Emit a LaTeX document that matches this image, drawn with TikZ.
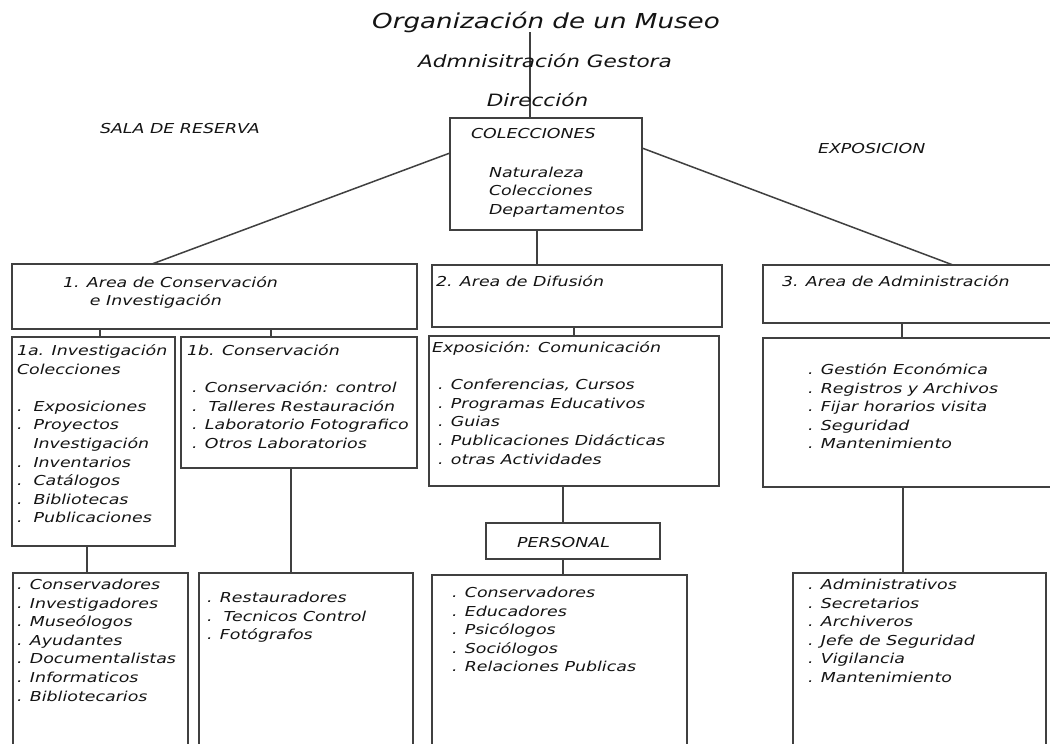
\documentclass[tikz,border=0pt]{standalone}
\usepackage{fontspec}
\setmainfont{DejaVu Sans}[FakeStretch=1.27, ItalicFont=DejaVu Sans Oblique]
\begin{document}
\begin{tikzpicture}[x=1pt,y=-1pt,
  box/.style={draw=black!75, line width=1.3pt, inner sep=0pt, outer sep=0pt, anchor=north west},
  conn/.style={draw=black!75, line width=1.3pt},
  diag/.style={draw=black!75, line width=1.5pt},
  txt/.style={inner sep=0pt, outer sep=0pt, align=left, anchor=north west, text=black!92,
    font=\fontsize{13.7}{18.6}\selectfont\itshape},
  big/.style={inner sep=0pt, outer sep=0pt, anchor=base, text=black!92,
    font=\fontsize{17}{20}\selectfont\itshape}]
\useasboundingbox (0,0) rectangle (1050,744);
\clip (0,0) rectangle (1050,744);
\fill[white] (0,0) rectangle (1050,744);
% boxes
\node[box, minimum width=192pt, minimum height=112pt] (col) at (450,118) {};
\node[box, minimum width=405pt, minimum height=65pt] (b1) at (12,264) {};
\node[box, minimum width=290pt, minimum height=62pt] (b2) at (432,265) {};
\node[box, minimum width=300pt, minimum height=58pt] (b3) at (763,265) {};
\node[box, minimum width=163pt, minimum height=209pt] (b1a) at (12,337) {};
\node[box, minimum width=236pt, minimum height=131pt] (b1b) at (181,337) {};
\node[box, minimum width=290pt, minimum height=150pt] (bexp) at (429,336) {};
\node[box, minimum width=300pt, minimum height=149pt] (b3s) at (763,338) {};
\node[box, minimum width=174pt, minimum height=36pt] (bpers) at (486,523) {};
\node[box, minimum width=175pt, minimum height=200pt] (c1) at (13,573) {};
\node[box, minimum width=214pt, minimum height=200pt] (c2) at (199,573) {};
\node[box, minimum width=255pt, minimum height=200pt] (c3) at (432,575) {};
\node[box, minimum width=253pt, minimum height=200pt] (c4) at (793,573) {};
% headings
\node[big, font=\fontsize{20.6}{24}\selectfont\itshape] (title) at (546,28) {Organización de un Museo};
\coordinate (tx) at (530,0);
\draw[conn] (title.south -| tx) -- (col.north -| tx);
\node[big] (admin) at (545,67) {Admnisitración Gestora};
\node[big] (dir) at (537.5,106) {Dirección};
\node[txt, anchor=base west] (sala) at (100,133) {SALA DE RESERVA};
\node[txt, anchor=base west] (expo) at (818,153) {EXPOSICION};
% connectors
\draw[diag] ([yshift=-35pt]col.north west) -- ([xshift=140pt]b1.north west);
\draw[diag] ([yshift=-30pt]col.north east) -- ([xshift=190pt]b3.north west);
\draw[conn] ([xshift=-9pt]col.south) -- ([xshift=-9pt]col.south |- b2.north);
\draw[conn] ([xshift=6.5pt]b1a.north) -- ([xshift=6.5pt]b1a.north |- b1.south);
\draw[conn] ([xshift=-28pt]b1b.north) -- ([xshift=-28pt]b1b.north |- b1.south);
\draw[conn] (bexp.north) -- (bexp.north |- b2.south);
\draw[conn] ([xshift=-11pt]b3s.north) -- ([xshift=-11pt]b3s.north |- b3.south);
\draw[conn] ([xshift=-6.5pt]b1a.south) -- ([xshift=-6.5pt]b1a.south |- c1.north);
\draw[conn] ([xshift=-8pt]b1b.south) -- ([xshift=-8pt]b1b.south |- c2.north);
\draw[conn] ([xshift=-11pt]bexp.south) -- ([xshift=-11pt]bexp.south |- bpers.north);
\draw[conn] ([xshift=-10pt]bpers.south) -- ([xshift=-10pt]bpers.south |- c3.north);
\draw[conn] ([xshift=-10pt]b3s.south) -- ([xshift=-10pt]b3s.south |- c4.north);
% texts
\node[txt, anchor=base west] (tcol) at (471,138) {COLECCIONES};
\node[txt] (tnat) at (489,166.6) {Naturaleza\\Colecciones\\Departamentos};
\node[txt] (t1) at (63,276.3) {1. Area de Conservación\\\hspace{27pt}e Investigación};
\node[txt] (t2) at (436,275.6) {2. Area de Difusión};
\node[txt] (t3) at (782,275.6) {3. Area de Administración};
\node[txt] (t1a) at (17,344.6) {1a. Investigación\\Colecciones\\[18.6pt]
  .\ \ Exposiciones\\.\ \ Proyectos\\\hspace{16.5pt}Investigación\\.\ \ Inventarios\\
  .\ \ Catálogos\\.\ \ Bibliotecas\\.\ \ Publicaciones};
\node[txt] (t1b) at (187,344.6) {1b. Conservación\\[18.6pt]
  \hspace{5pt}. Conservación: control\\\hspace{5pt}.\ \ Talleres Restauración\\
  \hspace{5pt}. Laboratorio Fotografico\\\hspace{5pt}. Otros Laboratorios};
\node[txt] (texp) at (432,341.6) {Exposición: Comunicación\\[18.6pt]
  \hspace{6pt}. Conferencias, Cursos\\\hspace{6pt}. Programas Educativos\\
  \hspace{6pt}. Guias\\\hspace{6pt}. Publicaciones Didácticas\\\hspace{6pt}. otras Actividades};
\node[txt] (t3s) at (808,363.6) {. Gestión Económica\\. Registros y Archivos\\. Fijar horarios visita\\. Seguridad\\. Mantenimiento};
\node[txt, anchor=base] (tpers) at (563.5,547) {PERSONAL};
\node[txt] (tc1) at (17,579) {. Conservadores\\. Investigadores\\. Museólogos\\. Ayudantes\\. Documentalistas\\. Informaticos\\. Bibliotecarios};
\node[txt] (tc2) at (207,592) {. Restauradores\\.\ \ Tecnicos Control\\. Fotógrafos};
\node[txt] (tc3) at (452,587) {. Conservadores\\. Educadores\\. Psicólogos\\. Sociólogos\\. Relaciones Publicas};
\node[txt] (tc4) at (808,579) {. Administrativos\\. Secretarios\\. Archiveros\\. Jefe de Seguridad\\. Vigilancia\\. Mantenimiento};
\end{tikzpicture}
\end{document}
